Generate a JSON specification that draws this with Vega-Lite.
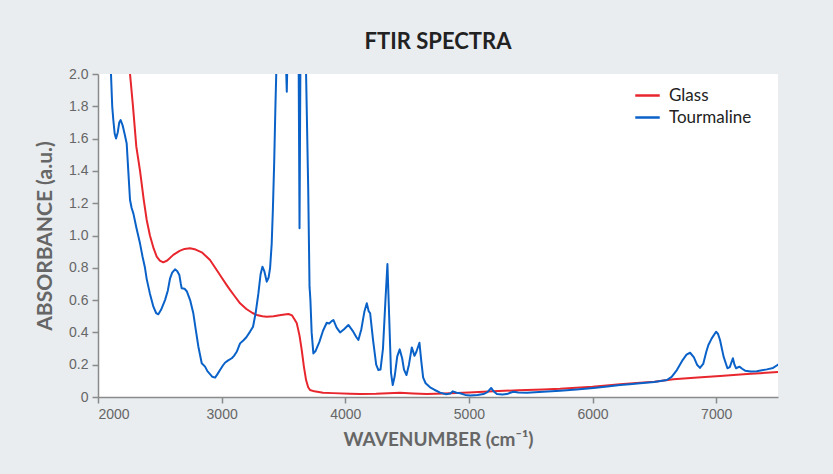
{
  "$schema": "https://vega.github.io/schema/vega-lite/v6.json",
  "autosize": "none",
  "width": 680,
  "height": 323,
  "padding": {"left": 98, "top": 74, "right": 55, "bottom": 77},
  "background": "#e9edf0",
  "view": {"fill": "#ffffff", "stroke": null},
  "title": {
    "text": "FTIR SPECTRA",
    "font": "Lato",
    "fontWeight": "bold",
    "fontSize": 22,
    "color": "#222222",
    "anchor": "middle",
    "offset": 13
  },
  "data": {"values": [
    {"series": "Glass", "wavenumber": 2230, "absorbance": 2.3},
    {"series": "Glass", "wavenumber": 2259, "absorbance": 2.0},
    {"series": "Glass", "wavenumber": 2283, "absorbance": 1.8},
    {"series": "Glass", "wavenumber": 2310, "absorbance": 1.55},
    {"series": "Glass", "wavenumber": 2340, "absorbance": 1.4},
    {"series": "Glass", "wavenumber": 2370, "absorbance": 1.22},
    {"series": "Glass", "wavenumber": 2394, "absorbance": 1.096},
    {"series": "Glass", "wavenumber": 2420, "absorbance": 1.0},
    {"series": "Glass", "wavenumber": 2450, "absorbance": 0.92},
    {"series": "Glass", "wavenumber": 2475, "absorbance": 0.869},
    {"series": "Glass", "wavenumber": 2500, "absorbance": 0.845},
    {"series": "Glass", "wavenumber": 2528, "absorbance": 0.834},
    {"series": "Glass", "wavenumber": 2560, "absorbance": 0.845},
    {"series": "Glass", "wavenumber": 2609, "absorbance": 0.88},
    {"series": "Glass", "wavenumber": 2660, "absorbance": 0.905},
    {"series": "Glass", "wavenumber": 2700, "absorbance": 0.917},
    {"series": "Glass", "wavenumber": 2744, "absorbance": 0.921},
    {"series": "Glass", "wavenumber": 2790, "absorbance": 0.913},
    {"series": "Glass", "wavenumber": 2839, "absorbance": 0.896},
    {"series": "Glass", "wavenumber": 2870, "absorbance": 0.875},
    {"series": "Glass", "wavenumber": 2906, "absorbance": 0.848},
    {"series": "Glass", "wavenumber": 2960, "absorbance": 0.786},
    {"series": "Glass", "wavenumber": 3000, "absorbance": 0.74},
    {"series": "Glass", "wavenumber": 3041, "absorbance": 0.693},
    {"series": "Glass", "wavenumber": 3068, "absorbance": 0.663},
    {"series": "Glass", "wavenumber": 3100, "absorbance": 0.63},
    {"series": "Glass", "wavenumber": 3149, "absorbance": 0.58},
    {"series": "Glass", "wavenumber": 3200, "absorbance": 0.545},
    {"series": "Glass", "wavenumber": 3250, "absorbance": 0.52},
    {"series": "Glass", "wavenumber": 3284, "absorbance": 0.508},
    {"series": "Glass", "wavenumber": 3330, "absorbance": 0.5},
    {"series": "Glass", "wavenumber": 3365, "absorbance": 0.497},
    {"series": "Glass", "wavenumber": 3420, "absorbance": 0.5},
    {"series": "Glass", "wavenumber": 3480, "absorbance": 0.508},
    {"series": "Glass", "wavenumber": 3540, "absorbance": 0.514},
    {"series": "Glass", "wavenumber": 3570, "absorbance": 0.505},
    {"series": "Glass", "wavenumber": 3590, "absorbance": 0.48},
    {"series": "Glass", "wavenumber": 3608, "absorbance": 0.456},
    {"series": "Glass", "wavenumber": 3630, "absorbance": 0.38},
    {"series": "Glass", "wavenumber": 3648, "absorbance": 0.29},
    {"series": "Glass", "wavenumber": 3665, "absorbance": 0.19},
    {"series": "Glass", "wavenumber": 3683, "absorbance": 0.105},
    {"series": "Glass", "wavenumber": 3700, "absorbance": 0.06},
    {"series": "Glass", "wavenumber": 3715, "absorbance": 0.043},
    {"series": "Glass", "wavenumber": 3750, "absorbance": 0.035},
    {"series": "Glass", "wavenumber": 3820, "absorbance": 0.027},
    {"series": "Glass", "wavenumber": 3900, "absorbance": 0.024},
    {"series": "Glass", "wavenumber": 4039, "absorbance": 0.02},
    {"series": "Glass", "wavenumber": 4120, "absorbance": 0.018},
    {"series": "Glass", "wavenumber": 4250, "absorbance": 0.02},
    {"series": "Glass", "wavenumber": 4443, "absorbance": 0.027},
    {"series": "Glass", "wavenumber": 4550, "absorbance": 0.022},
    {"series": "Glass", "wavenumber": 4659, "absorbance": 0.018},
    {"series": "Glass", "wavenumber": 4800, "absorbance": 0.022},
    {"series": "Glass", "wavenumber": 5000, "absorbance": 0.028},
    {"series": "Glass", "wavenumber": 5196, "absorbance": 0.035},
    {"series": "Glass", "wavenumber": 5400, "absorbance": 0.042},
    {"series": "Glass", "wavenumber": 5600, "absorbance": 0.047},
    {"series": "Glass", "wavenumber": 5738, "absorbance": 0.051},
    {"series": "Glass", "wavenumber": 6000, "absorbance": 0.064},
    {"series": "Glass", "wavenumber": 6223, "absorbance": 0.079},
    {"series": "Glass", "wavenumber": 6385, "absorbance": 0.089},
    {"series": "Glass", "wavenumber": 6500, "absorbance": 0.095},
    {"series": "Glass", "wavenumber": 6654, "absorbance": 0.11},
    {"series": "Glass", "wavenumber": 6850, "absorbance": 0.12},
    {"series": "Glass", "wavenumber": 7031, "absorbance": 0.13},
    {"series": "Glass", "wavenumber": 7250, "absorbance": 0.142},
    {"series": "Glass", "wavenumber": 7500, "absorbance": 0.155},
    {"series": "Tourmaline", "wavenumber": 2095, "absorbance": 2.2},
    {"series": "Tourmaline", "wavenumber": 2105, "absorbance": 2.0},
    {"series": "Tourmaline", "wavenumber": 2115, "absorbance": 1.8},
    {"series": "Tourmaline", "wavenumber": 2124, "absorbance": 1.715},
    {"series": "Tourmaline", "wavenumber": 2135, "absorbance": 1.63},
    {"series": "Tourmaline", "wavenumber": 2146, "absorbance": 1.6},
    {"series": "Tourmaline", "wavenumber": 2160, "absorbance": 1.64},
    {"series": "Tourmaline", "wavenumber": 2172, "absorbance": 1.7},
    {"series": "Tourmaline", "wavenumber": 2183, "absorbance": 1.715},
    {"series": "Tourmaline", "wavenumber": 2200, "absorbance": 1.68},
    {"series": "Tourmaline", "wavenumber": 2215, "absorbance": 1.63},
    {"series": "Tourmaline", "wavenumber": 2232, "absorbance": 1.57},
    {"series": "Tourmaline", "wavenumber": 2245, "absorbance": 1.4},
    {"series": "Tourmaline", "wavenumber": 2259, "absorbance": 1.22},
    {"series": "Tourmaline", "wavenumber": 2272, "absorbance": 1.17},
    {"series": "Tourmaline", "wavenumber": 2286, "absorbance": 1.137},
    {"series": "Tourmaline", "wavenumber": 2310, "absorbance": 1.05},
    {"series": "Tourmaline", "wavenumber": 2340, "absorbance": 0.95},
    {"series": "Tourmaline", "wavenumber": 2360, "absorbance": 0.87},
    {"series": "Tourmaline", "wavenumber": 2380, "absorbance": 0.8},
    {"series": "Tourmaline", "wavenumber": 2394, "absorbance": 0.73},
    {"series": "Tourmaline", "wavenumber": 2420, "absorbance": 0.64},
    {"series": "Tourmaline", "wavenumber": 2448, "absorbance": 0.559},
    {"series": "Tourmaline", "wavenumber": 2470, "absorbance": 0.52},
    {"series": "Tourmaline", "wavenumber": 2488, "absorbance": 0.512},
    {"series": "Tourmaline", "wavenumber": 2510, "absorbance": 0.54},
    {"series": "Tourmaline", "wavenumber": 2542, "absorbance": 0.6},
    {"series": "Tourmaline", "wavenumber": 2565, "absorbance": 0.66},
    {"series": "Tourmaline", "wavenumber": 2583, "absorbance": 0.735},
    {"series": "Tourmaline", "wavenumber": 2600, "absorbance": 0.77},
    {"series": "Tourmaline", "wavenumber": 2623, "absorbance": 0.79},
    {"series": "Tourmaline", "wavenumber": 2640, "absorbance": 0.78},
    {"series": "Tourmaline", "wavenumber": 2658, "absorbance": 0.755},
    {"series": "Tourmaline", "wavenumber": 2670, "absorbance": 0.7},
    {"series": "Tourmaline", "wavenumber": 2677, "absorbance": 0.673},
    {"series": "Tourmaline", "wavenumber": 2700, "absorbance": 0.67},
    {"series": "Tourmaline", "wavenumber": 2718, "absorbance": 0.655},
    {"series": "Tourmaline", "wavenumber": 2745, "absorbance": 0.6},
    {"series": "Tourmaline", "wavenumber": 2771, "absorbance": 0.518},
    {"series": "Tourmaline", "wavenumber": 2790, "absorbance": 0.42},
    {"series": "Tourmaline", "wavenumber": 2812, "absorbance": 0.311},
    {"series": "Tourmaline", "wavenumber": 2839, "absorbance": 0.209},
    {"series": "Tourmaline", "wavenumber": 2866, "absorbance": 0.188},
    {"series": "Tourmaline", "wavenumber": 2885, "absorbance": 0.16},
    {"series": "Tourmaline", "wavenumber": 2906, "absorbance": 0.142},
    {"series": "Tourmaline", "wavenumber": 2925, "absorbance": 0.125},
    {"series": "Tourmaline", "wavenumber": 2947, "absorbance": 0.12},
    {"series": "Tourmaline", "wavenumber": 2965, "absorbance": 0.14},
    {"series": "Tourmaline", "wavenumber": 2987, "absorbance": 0.167},
    {"series": "Tourmaline", "wavenumber": 3010, "absorbance": 0.195},
    {"series": "Tourmaline", "wavenumber": 3027, "absorbance": 0.212},
    {"series": "Tourmaline", "wavenumber": 3050, "absorbance": 0.225},
    {"series": "Tourmaline", "wavenumber": 3082, "absorbance": 0.24},
    {"series": "Tourmaline", "wavenumber": 3100, "absorbance": 0.255},
    {"series": "Tourmaline", "wavenumber": 3122, "absorbance": 0.28},
    {"series": "Tourmaline", "wavenumber": 3149, "absorbance": 0.332},
    {"series": "Tourmaline", "wavenumber": 3175, "absorbance": 0.35},
    {"series": "Tourmaline", "wavenumber": 3200, "absorbance": 0.37},
    {"series": "Tourmaline", "wavenumber": 3230, "absorbance": 0.405},
    {"series": "Tourmaline", "wavenumber": 3254, "absorbance": 0.435},
    {"series": "Tourmaline", "wavenumber": 3275, "absorbance": 0.52},
    {"series": "Tourmaline", "wavenumber": 3297, "absorbance": 0.64},
    {"series": "Tourmaline", "wavenumber": 3315, "absorbance": 0.76},
    {"series": "Tourmaline", "wavenumber": 3330, "absorbance": 0.807},
    {"series": "Tourmaline", "wavenumber": 3345, "absorbance": 0.78},
    {"series": "Tourmaline", "wavenumber": 3365, "absorbance": 0.714},
    {"series": "Tourmaline", "wavenumber": 3380, "absorbance": 0.74},
    {"series": "Tourmaline", "wavenumber": 3392, "absorbance": 0.8},
    {"series": "Tourmaline", "wavenumber": 3405, "absorbance": 0.95},
    {"series": "Tourmaline", "wavenumber": 3414, "absorbance": 1.15},
    {"series": "Tourmaline", "wavenumber": 3425, "absorbance": 1.45},
    {"series": "Tourmaline", "wavenumber": 3435, "absorbance": 1.8},
    {"series": "Tourmaline", "wavenumber": 3445, "absorbance": 2.1},
    {"series": "Tourmaline", "wavenumber": 3480, "absorbance": 2.4},
    {"series": "Tourmaline", "wavenumber": 3515, "absorbance": 2.2},
    {"series": "Tourmaline", "wavenumber": 3527, "absorbance": 1.89},
    {"series": "Tourmaline", "wavenumber": 3535, "absorbance": 2.2},
    {"series": "Tourmaline", "wavenumber": 3580, "absorbance": 2.4},
    {"series": "Tourmaline", "wavenumber": 3622, "absorbance": 2.2},
    {"series": "Tourmaline", "wavenumber": 3630, "absorbance": 1.045},
    {"series": "Tourmaline", "wavenumber": 3638, "absorbance": 2.2},
    {"series": "Tourmaline", "wavenumber": 3665, "absorbance": 2.4},
    {"series": "Tourmaline", "wavenumber": 3683, "absorbance": 2.0},
    {"series": "Tourmaline", "wavenumber": 3700, "absorbance": 1.3},
    {"series": "Tourmaline", "wavenumber": 3711, "absorbance": 0.68},
    {"series": "Tourmaline", "wavenumber": 3714, "absorbance": 0.65},
    {"series": "Tourmaline", "wavenumber": 3718, "absorbance": 0.6},
    {"series": "Tourmaline", "wavenumber": 3728, "absorbance": 0.4},
    {"series": "Tourmaline", "wavenumber": 3742, "absorbance": 0.27},
    {"series": "Tourmaline", "wavenumber": 3760, "absorbance": 0.285},
    {"series": "Tourmaline", "wavenumber": 3790, "absorbance": 0.34},
    {"series": "Tourmaline", "wavenumber": 3820, "absorbance": 0.41},
    {"series": "Tourmaline", "wavenumber": 3850, "absorbance": 0.46},
    {"series": "Tourmaline", "wavenumber": 3870, "absorbance": 0.455},
    {"series": "Tourmaline", "wavenumber": 3890, "absorbance": 0.47},
    {"series": "Tourmaline", "wavenumber": 3904, "absorbance": 0.477},
    {"series": "Tourmaline", "wavenumber": 3930, "absorbance": 0.43},
    {"series": "Tourmaline", "wavenumber": 3958, "absorbance": 0.4},
    {"series": "Tourmaline", "wavenumber": 3990, "absorbance": 0.42},
    {"series": "Tourmaline", "wavenumber": 4025, "absorbance": 0.446},
    {"series": "Tourmaline", "wavenumber": 4060, "absorbance": 0.41},
    {"series": "Tourmaline", "wavenumber": 4090, "absorbance": 0.37},
    {"series": "Tourmaline", "wavenumber": 4106, "absorbance": 0.353},
    {"series": "Tourmaline", "wavenumber": 4130, "absorbance": 0.42},
    {"series": "Tourmaline", "wavenumber": 4155, "absorbance": 0.53},
    {"series": "Tourmaline", "wavenumber": 4174, "absorbance": 0.58},
    {"series": "Tourmaline", "wavenumber": 4190, "absorbance": 0.53},
    {"series": "Tourmaline", "wavenumber": 4201, "absorbance": 0.52},
    {"series": "Tourmaline", "wavenumber": 4225, "absorbance": 0.35},
    {"series": "Tourmaline", "wavenumber": 4250, "absorbance": 0.2},
    {"series": "Tourmaline", "wavenumber": 4268, "absorbance": 0.167},
    {"series": "Tourmaline", "wavenumber": 4285, "absorbance": 0.17},
    {"series": "Tourmaline", "wavenumber": 4305, "absorbance": 0.3},
    {"series": "Tourmaline", "wavenumber": 4325, "absorbance": 0.6},
    {"series": "Tourmaline", "wavenumber": 4341, "absorbance": 0.823},
    {"series": "Tourmaline", "wavenumber": 4355, "absorbance": 0.5},
    {"series": "Tourmaline", "wavenumber": 4370, "absorbance": 0.15},
    {"series": "Tourmaline", "wavenumber": 4384, "absorbance": 0.074},
    {"series": "Tourmaline", "wavenumber": 4400, "absorbance": 0.13},
    {"series": "Tourmaline", "wavenumber": 4420, "absorbance": 0.25},
    {"series": "Tourmaline", "wavenumber": 4440, "absorbance": 0.295},
    {"series": "Tourmaline", "wavenumber": 4460, "absorbance": 0.24},
    {"series": "Tourmaline", "wavenumber": 4475, "absorbance": 0.17},
    {"series": "Tourmaline", "wavenumber": 4495, "absorbance": 0.136},
    {"series": "Tourmaline", "wavenumber": 4515, "absorbance": 0.2},
    {"series": "Tourmaline", "wavenumber": 4538, "absorbance": 0.307},
    {"series": "Tourmaline", "wavenumber": 4560, "absorbance": 0.255},
    {"series": "Tourmaline", "wavenumber": 4575, "absorbance": 0.28},
    {"series": "Tourmaline", "wavenumber": 4600, "absorbance": 0.336},
    {"series": "Tourmaline", "wavenumber": 4615, "absorbance": 0.22},
    {"series": "Tourmaline", "wavenumber": 4630, "absorbance": 0.12},
    {"series": "Tourmaline", "wavenumber": 4650, "absorbance": 0.085},
    {"series": "Tourmaline", "wavenumber": 4686, "absorbance": 0.06},
    {"series": "Tourmaline", "wavenumber": 4720, "absorbance": 0.045},
    {"series": "Tourmaline", "wavenumber": 4767, "absorbance": 0.027},
    {"series": "Tourmaline", "wavenumber": 4816, "absorbance": 0.017},
    {"series": "Tourmaline", "wavenumber": 4850, "absorbance": 0.022},
    {"series": "Tourmaline", "wavenumber": 4870, "absorbance": 0.035},
    {"series": "Tourmaline", "wavenumber": 4900, "absorbance": 0.026},
    {"series": "Tourmaline", "wavenumber": 4929, "absorbance": 0.023},
    {"series": "Tourmaline", "wavenumber": 4970, "absorbance": 0.013},
    {"series": "Tourmaline", "wavenumber": 5010, "absorbance": 0.01},
    {"series": "Tourmaline", "wavenumber": 5070, "absorbance": 0.012},
    {"series": "Tourmaline", "wavenumber": 5118, "absorbance": 0.018},
    {"series": "Tourmaline", "wavenumber": 5150, "absorbance": 0.03},
    {"series": "Tourmaline", "wavenumber": 5180, "absorbance": 0.056},
    {"series": "Tourmaline", "wavenumber": 5200, "absorbance": 0.035},
    {"series": "Tourmaline", "wavenumber": 5226, "absorbance": 0.018},
    {"series": "Tourmaline", "wavenumber": 5270, "absorbance": 0.016},
    {"series": "Tourmaline", "wavenumber": 5307, "absorbance": 0.018},
    {"series": "Tourmaline", "wavenumber": 5340, "absorbance": 0.028},
    {"series": "Tourmaline", "wavenumber": 5361, "absorbance": 0.033},
    {"series": "Tourmaline", "wavenumber": 5400, "absorbance": 0.028},
    {"series": "Tourmaline", "wavenumber": 5469, "absorbance": 0.027},
    {"series": "Tourmaline", "wavenumber": 5600, "absorbance": 0.032},
    {"series": "Tourmaline", "wavenumber": 5738, "absorbance": 0.039},
    {"series": "Tourmaline", "wavenumber": 5870, "absorbance": 0.047},
    {"series": "Tourmaline", "wavenumber": 6007, "absorbance": 0.056},
    {"series": "Tourmaline", "wavenumber": 6120, "absorbance": 0.065},
    {"series": "Tourmaline", "wavenumber": 6223, "absorbance": 0.074},
    {"series": "Tourmaline", "wavenumber": 6300, "absorbance": 0.079},
    {"series": "Tourmaline", "wavenumber": 6385, "absorbance": 0.085},
    {"series": "Tourmaline", "wavenumber": 6500, "absorbance": 0.093},
    {"series": "Tourmaline", "wavenumber": 6601, "absorbance": 0.105},
    {"series": "Tourmaline", "wavenumber": 6640, "absorbance": 0.125},
    {"series": "Tourmaline", "wavenumber": 6682, "absorbance": 0.167},
    {"series": "Tourmaline", "wavenumber": 6730, "absorbance": 0.23},
    {"series": "Tourmaline", "wavenumber": 6760, "absorbance": 0.262},
    {"series": "Tourmaline", "wavenumber": 6789, "absorbance": 0.274},
    {"series": "Tourmaline", "wavenumber": 6820, "absorbance": 0.245},
    {"series": "Tourmaline", "wavenumber": 6845, "absorbance": 0.2},
    {"series": "Tourmaline", "wavenumber": 6869, "absorbance": 0.18},
    {"series": "Tourmaline", "wavenumber": 6895, "absorbance": 0.205},
    {"series": "Tourmaline", "wavenumber": 6920, "absorbance": 0.28},
    {"series": "Tourmaline", "wavenumber": 6937, "absorbance": 0.322},
    {"series": "Tourmaline", "wavenumber": 6964, "absorbance": 0.363},
    {"series": "Tourmaline", "wavenumber": 6999, "absorbance": 0.404},
    {"series": "Tourmaline", "wavenumber": 7015, "absorbance": 0.39},
    {"series": "Tourmaline", "wavenumber": 7031, "absorbance": 0.353},
    {"series": "Tourmaline", "wavenumber": 7060, "absorbance": 0.25},
    {"series": "Tourmaline", "wavenumber": 7091, "absorbance": 0.178},
    {"series": "Tourmaline", "wavenumber": 7110, "absorbance": 0.185},
    {"series": "Tourmaline", "wavenumber": 7135, "absorbance": 0.24},
    {"series": "Tourmaline", "wavenumber": 7148, "absorbance": 0.2},
    {"series": "Tourmaline", "wavenumber": 7161, "absorbance": 0.178},
    {"series": "Tourmaline", "wavenumber": 7188, "absorbance": 0.188},
    {"series": "Tourmaline", "wavenumber": 7210, "absorbance": 0.175},
    {"series": "Tourmaline", "wavenumber": 7234, "absorbance": 0.163},
    {"series": "Tourmaline", "wavenumber": 7280, "absorbance": 0.158},
    {"series": "Tourmaline", "wavenumber": 7329, "absorbance": 0.159},
    {"series": "Tourmaline", "wavenumber": 7370, "absorbance": 0.165},
    {"series": "Tourmaline", "wavenumber": 7410, "absorbance": 0.171},
    {"series": "Tourmaline", "wavenumber": 7460, "absorbance": 0.18},
    {"series": "Tourmaline", "wavenumber": 7490, "absorbance": 0.195},
    {"series": "Tourmaline", "wavenumber": 7504, "absorbance": 0.202}
  ]},
  "mark": {"type": "line", "clip": true, "strokeWidth": 2, "strokeJoin": "round"},
  "encoding": {
    "x": {
      "field": "wavenumber",
      "type": "quantitative",
      "scale": {"domain": [2000, 7500], "nice": false, "zero": false},
      "axis": {
        "title": "WAVENUMBER (cm⁻¹)",
        "values": [2000, 3000, 4000, 5000, 6000, 7000],
        "format": "d",
        "grid": false,
        "domainColor": "#8a8a8a",
        "domainWidth": 1.5,
        "tickColor": "#8a8a8a",
        "tickWidth": 1.5,
        "tickSize": 6,
        "labelFont": "Liberation Sans",
        "labelFontSize": 14,
        "labelColor": "#666666",
        "labelPadding": 4,
        "titleFont": "Lato",
        "titleFontWeight": "bold",
        "titleFontSize": 19,
        "titleColor": "#666666",
        "titlePadding": 9
      }
    },
    "y": {
      "field": "absorbance",
      "type": "quantitative",
      "scale": {"domain": [0, 2], "nice": false},
      "axis": {
        "title": "ABSORBANCE (a.u.)",
        "values": [0, 0.2, 0.4, 0.6, 0.8, 1.0, 1.2, 1.4, 1.6, 1.8, 2.0],
        "labelExpr": "datum.value == 0 ? '0' : format(datum.value, '.1f')",
        "grid": false,
        "domainColor": "#8a8a8a",
        "domainWidth": 1.5,
        "tickColor": "#8a8a8a",
        "tickWidth": 1.5,
        "tickSize": 6,
        "labelFont": "Liberation Sans",
        "labelFontSize": 14,
        "labelColor": "#666666",
        "labelPadding": 4,
        "titleFont": "Lato",
        "titleFontWeight": "bold",
        "titleFontSize": 21,
        "titleColor": "#666666",
        "titlePadding": 13
      }
    },
    "color": {
      "field": "series",
      "type": "nominal",
      "scale": {"domain": ["Glass", "Tourmaline"], "range": ["#e8262d", "#0a62c9"]},
      "legend": {
        "title": null,
        "orient": "none",
        "legendX": 536,
        "legendY": 8,
        "symbolType": "stroke",
        "symbolSize": 600,
        "symbolStrokeWidth": 2.5,
        "labelFont": "Lato",
        "labelFontSize": 17,
        "labelColor": "#222222",
        "labelOffset": 8,
        "rowPadding": -2
      }
    }
  }
}
